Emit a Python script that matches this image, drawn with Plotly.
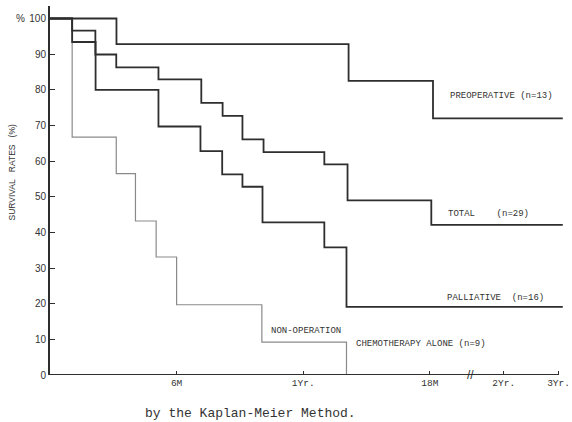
import plotly.graph_objects as go

# ---- data (time in months; axis position for the right end after the break) ----
END_POS = 24.3           # right end of curves (beyond 3Yr. on the broken axis)
AXIS_END = 24.1          # axis position of "3Yr."
tick_vals = [6, 12, 18, 21.5, 24.1]
tick_text = ["6M", "1Yr.", "18M", "2Yr.", "3Yr."]
y_ticks = [0, 10, 20, 30, 40, 50, 60, 70, 80, 90, 100]

preop_t = [0, 3.15, 14.15, 18.15, END_POS]
preop_s = [100, 92.8, 82.5, 72.0, 72.0]

total_t = [0, 1.05, 2.15, 3.14, 5.14, 7.17, 8.18, 9.12, 10.12, 13.0, 14.1, 18.07, END_POS]
total_s = [100, 96.6, 89.9, 86.3, 82.9, 76.3, 72.7, 66.1, 62.5, 59.1, 49.0, 42.1, 42.1]

pall_t = [0, 1.05, 2.16, 5.14, 7.13, 8.16, 9.12, 10.07, 13.0, 14.05, END_POS]
pall_s = [100, 93.4, 80.0, 69.7, 62.8, 56.3, 52.8, 42.8, 35.8, 19.1, 19.1]

nonop_t = [0, 1.05, 3.14, 4.05, 5.03, 6.0, 10.04, 14.05]
nonop_s = [100, 66.7, 56.5, 43.2, 33.1, 19.7, 9.2, 0]

BREAK_POS = 19.95

SANS = "Liberation Sans, Arial, sans-serif"
MONO = "Liberation Mono, DejaVu Sans Mono, monospace"
DARK = "#2e2e2e"
GREY = "#8a8a8a"
TXT = "#333333"
NB = "\u00a0"

fig = go.Figure()
for t, s, col, w in [(nonop_t, nonop_s, GREY, 1.2),
                     (preop_t, preop_s, DARK, 1.8),
                     (total_t, total_s, DARK, 1.8),
                     (pall_t, pall_s, DARK, 1.8)]:
    fig.add_trace(go.Scatter(x=t, y=s, mode="lines", line=dict(shape="hv", color=col, width=w),
                             showlegend=False, hoverinfo="skip"))

lab_font = dict(family=MONO, size=9, color=TXT)
labels = [
    (18.85, 78.3, "PREOPERATIVE" + NB + "(n=13)"),
    (18.75, 45.2, "TOTAL" + NB * 4 + "(n=29)"),
    (18.7, 21.7, "PALLIATIVE" + NB * 2 + "(n=16)"),
    (10.4, 12.3, "NON-OPERATION"),
    (14.4, 8.7, "CHEMOTHERAPY" + NB + "ALONE" + NB + "(n=9)"),
]
annotations = [dict(x=x, y=y, text=t, showarrow=False, xanchor="left", yanchor="middle",
                    font=lab_font) for x, y, t in labels]
annotations += [
    dict(x=-0.058, xref="paper", y=100, yref="y", text="%", showarrow=False,
         font=dict(family=SANS, size=10, color=TXT), xanchor="center", yanchor="middle"),
    dict(x=-0.074, xref="paper", y=57, yref="y", text="SURVIVAL" + NB * 3 + "RATES" + NB * 3 + "(%)",
         textangle=-90, showarrow=False, font=dict(family=SANS, size=8.5, color=TXT),
         xanchor="center", yanchor="middle"),
    dict(x=0.387, xref="paper", y=-0.103, yref="paper", text="by the Kaplan-Meier Method.",
         showarrow=False, font=dict(family=MONO, size=13, color=TXT),
         xanchor="center", yanchor="middle"),
    dict(x=BREAK_POS, y=0, text="//", showarrow=False,
         font=dict(family=SANS, size=12, color=DARK), xanchor="center", yanchor="middle"),
]

fig.update_layout(
    width=572, height=422,
    margin=dict(l=50, r=5, t=6, b=47, autoexpand=False),
    paper_bgcolor="white", plot_bgcolor="white",
    annotations=annotations,
    shapes=[dict(type="line", xref="x", yref="y", x0=0, x1=AXIS_END, y0=0, y1=0,
                 line=dict(color=DARK, width=2))],
    xaxis=dict(range=[0, 24.5], tickvals=tick_vals, ticktext=tick_text, ticks="inside",
               ticklen=4, tickwidth=1.2, tickcolor=DARK, showline=False, showgrid=False,
               zeroline=False, automargin=False,
               tickfont=dict(family=MONO, size=9.5, color=TXT)),
    yaxis=dict(range=[0, 103.5], tickvals=y_ticks, ticks="inside", ticklen=5, tickwidth=1.2,
               tickcolor=DARK, showline=True, linecolor=DARK, linewidth=2, showgrid=False,
               zeroline=False, automargin=False,
               tickfont=dict(family=SANS, size=10, color=TXT)),
)

fig.write_html("out.html", config={"displayModeBar": False},
               post_script="document.body.style.margin='0';document.body.style.overflow='hidden';")
